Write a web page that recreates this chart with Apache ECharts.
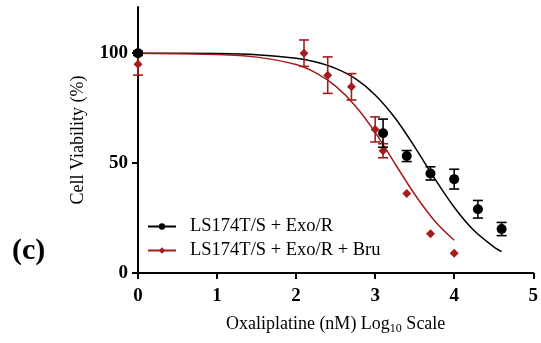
<!DOCTYPE html>
<html>
<head>
<meta charset="utf-8">
<script src="https://cdn.jsdelivr.net/npm/echarts@6/dist/echarts.min.js"></script>
<style>html,body{margin:0;padding:0;background:#fff}#c{width:541px;height:343px}</style>
</head>
<body>
<div id="c"></div>
<script>
// Series names
var nameA = 'LS174T/S + Exo/R';
var nameB = 'LS174T/S + Exo/R + Bru';
// Measured points: x (log10 nM), mean viability (%), error (+/-)
var xA = [0, 3.1, 3.4, 3.7, 4.0, 4.3, 4.6];
var yA = [100, 63.6, 53.2, 45.3, 42.7, 29, 20];
var eA = [1, 6.4, 2.5, 3, 4.5, 4, 3];
var xB = [0, 2.1, 2.4, 2.7, 3.0, 3.1, 3.4, 3.7, 4.0];
var yB = [95, 100, 90, 84.7, 65.3, 55.6, 36.2, 17.9, 9];
var eB = [5, 6, 8.3, 6, 5.7, 3.2, 0, 0, 0];
// Fitted curves
var cxA = [0, 1, 1.5, 2, 2.25, 2.5, 2.75, 3.0, 3.25, 3.5, 3.75, 4.0, 4.25, 4.5, 4.6];
var cyA = [100, 99.8, 99.3, 97.7, 96.0, 93.1, 88.4, 81.0, 70.6, 57.4, 43.1, 29.9, 19.3, 11.9, 9.7];
var cxB = [0, 1, 1.5, 2, 2.25, 2.5, 2.75, 3.0, 3.25, 3.5, 3.75, 4.0];
var cyB = [100, 99.4, 98.2, 94.8, 91.0, 85.0, 76.0, 64.0, 49.8, 35.8, 23.8, 14.9];
// Axis ticks
var xTicks = [0, 1, 2, 3, 4, 5];
var yTicks = [0, 50, 100];

var BLACK = '#000000';
var RED = '#a31d1d';
var FONT = '"Liberation Serif", "Times New Roman", serif';

function zip(a, b) { return a.map(function (v, i) { return [v, b[i]]; }); }
function errData(x, y, e) { return x.map(function (v, i) { return [v, y[i], y[i] - e[i], y[i] + e[i]]; }); }

function errRender(color) {
  return function (params, api) {
    var lo = api.coord([api.value(0), api.value(2)]);
    var hi = api.coord([api.value(0), api.value(3)]);
    if (Math.abs(hi[1] - lo[1]) < 0.5) return null;
    var w = 5;
    var st = { stroke: color, lineWidth: 1.6 };
    return {
      type: 'group',
      children: [
        { type: 'line', shape: { x1: lo[0], y1: lo[1], x2: hi[0], y2: hi[1] }, style: st },
        { type: 'line', shape: { x1: lo[0] - w, y1: lo[1], x2: lo[0] + w, y2: lo[1] }, style: st },
        { type: 'line', shape: { x1: hi[0] - w, y1: hi[1], x2: hi[0] + w, y2: hi[1] }, style: st }
      ]
    };
  };
}

var chart = echarts.init(document.getElementById('c'), null, { renderer: 'canvas' });
chart.setOption({
  animation: false,
  backgroundColor: '#ffffff',
  textStyle: { fontFamily: FONT },
  grid: { left: 138, right: 6, top: 7, bottom: 70, containLabel: false },
  legend: {
    left: 142, top: 212, orient: 'vertical',
    itemWidth: 28, itemHeight: 8, itemGap: 5,
    data: [nameA, nameB],
    textStyle: { fontFamily: FONT, fontSize: 18.5, color: '#000', padding: [0, 0, 0, 9] }
  },
  graphic: [{
    type: 'text', left: 12, top: 236,
    style: { text: '(c)', fontFamily: FONT, fontSize: 30, fontWeight: 'bold', fill: '#000' }
  }],
  xAxis: {
    type: 'value', min: 0, max: 5, interval: 1,
    name: '{a|Oxaliplatine (nM) Log}{s|10}{a| Scale}',
    nameLocation: 'middle', nameGap: 40,
    nameTextStyle: { rich: { a: { fontFamily: FONT, fontSize: 18, color: '#000' }, s: { fontFamily: FONT, fontSize: 12, color: '#000', verticalAlign: 'bottom', padding: [10, 0, 0, 0] } } },
    axisLine: { lineStyle: { color: '#000', width: 2 } },
    axisTick: { length: 6, lineStyle: { color: '#000', width: 2 } },
    axisLabel: { fontFamily: FONT, fontSize: 19, fontWeight: 'bold', color: '#000', margin: 14 },
    splitLine: { show: false }
  },
  yAxis: {
    type: 'value', min: 0, max: 121,
    name: 'Cell Viability (%)', nameLocation: 'middle', nameGap: 51,
    nameTextStyle: { fontFamily: FONT, fontSize: 18, color: '#000' },
    axisLine: { show: true, lineStyle: { color: '#000', width: 2 } },
    axisTick: { show: true, length: 6, customValues: yTicks, lineStyle: { color: '#000', width: 2 } },
    axisLabel: { fontFamily: FONT, fontSize: 19, fontWeight: 'bold', color: '#000', margin: 10, customValues: yTicks },
    splitLine: { show: false }
  },
  series: [
    {
      name: nameA, type: 'line', data: zip(cxA, cyA), smooth: 0.3, showSymbol: false,
      symbol: 'circle', symbolSize: 9, z: 2,
      lineStyle: { color: BLACK, width: 1.5 }, itemStyle: { color: BLACK }
    },
    {
      name: nameB, type: 'line', data: zip(cxB, cyB), smooth: 0.3, showSymbol: false,
      symbol: 'diamond', symbolSize: 8, z: 2,
      lineStyle: { color: RED, width: 1.5 }, itemStyle: { color: RED }
    },
    {
      name: nameB, type: 'custom', data: errData(xB, yB, eB), renderItem: errRender(RED), z: 3,
      encode: { x: 0, y: [1, 2, 3] }
    },
    {
      name: nameB, type: 'scatter', data: zip(xB, yB), symbol: 'diamond', symbolSize: 9, z: 4,
      itemStyle: { color: RED, opacity: 1 }
    },
    {
      name: nameA, type: 'custom', data: errData(xA, yA, eA), renderItem: errRender(BLACK), z: 5,
      encode: { x: 0, y: [1, 2, 3] }
    },
    {
      name: nameA, type: 'scatter', data: zip(xA, yA), symbol: 'circle', symbolSize: 10, z: 6,
      itemStyle: { color: BLACK, opacity: 1 }
    }
  ]
});
</script>
</body>
</html>
